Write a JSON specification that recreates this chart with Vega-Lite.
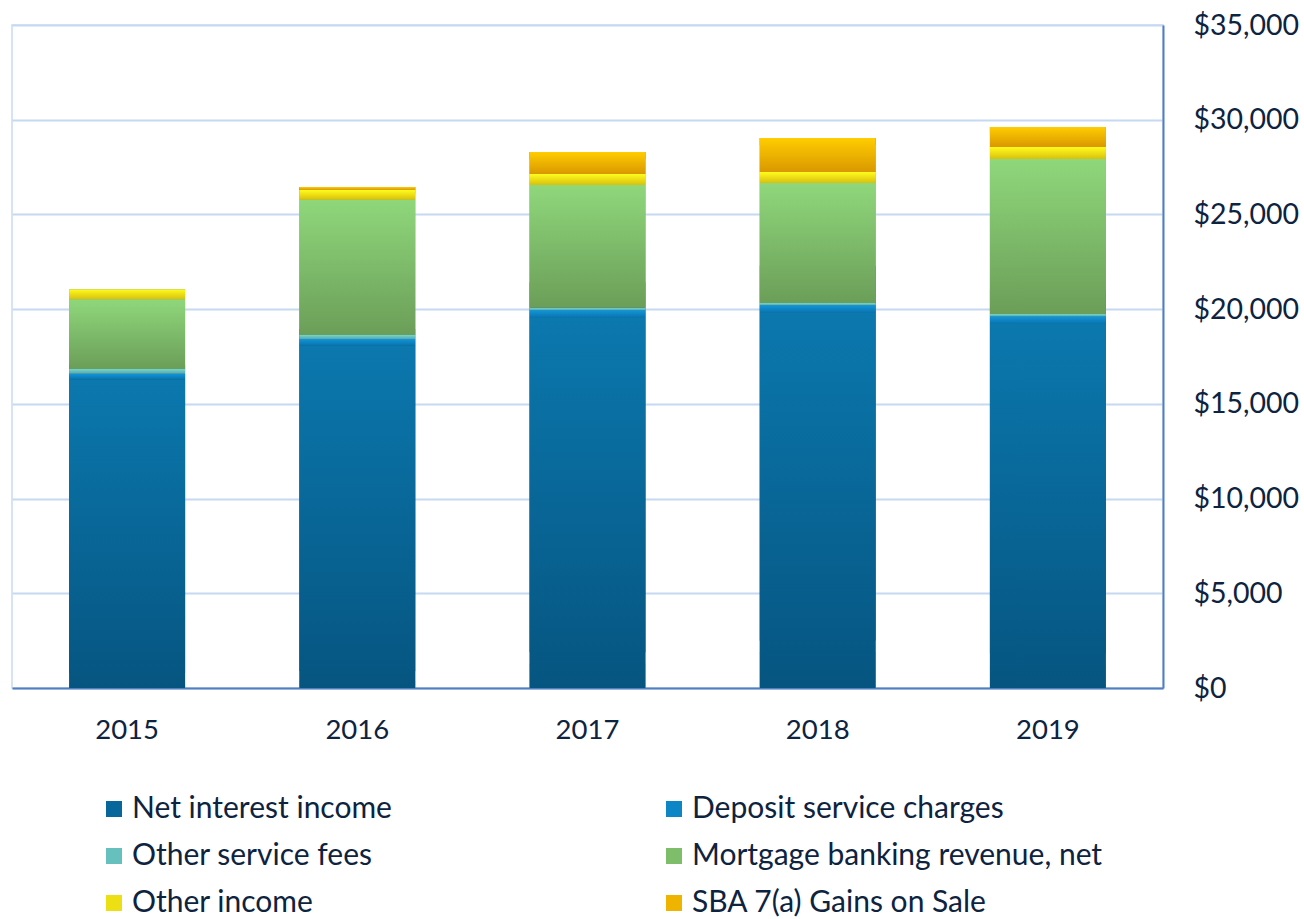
{
  "$schema": "https://vega.github.io/schema/vega-lite/v6.json",
  "autosize": {"type": "none"},
  "width": 1151,
  "height": 663,
  "padding": {"left": 12, "top": 25, "right": 141, "bottom": 231},
  "background": "white",
  "config": {
    "font": "Lato",
    "view": {"stroke": "#c9daf3", "strokeWidth": 1.5}
  },
  "data": {
    "values": [
      {"year": "2015", "category": "Net interest income", "value": 16292},
      {"year": "2015", "category": "Deposit service charges", "value": 300},
      {"year": "2015", "category": "Other service fees", "value": 248},
      {"year": "2015", "category": "Mortgage banking revenue, net", "value": 3680},
      {"year": "2015", "category": "Other income", "value": 528},
      {"year": "2015", "category": "SBA 7(a) Gains on Sale", "value": 0},
      {"year": "2016", "category": "Net interest income", "value": 18074},
      {"year": "2016", "category": "Deposit service charges", "value": 350},
      {"year": "2016", "category": "Other service fees", "value": 211},
      {"year": "2016", "category": "Mortgage banking revenue, net", "value": 7143},
      {"year": "2016", "category": "Other income", "value": 512},
      {"year": "2016", "category": "SBA 7(a) Gains on Sale", "value": 158},
      {"year": "2017", "category": "Net interest income", "value": 19538},
      {"year": "2017", "category": "Deposit service charges", "value": 400},
      {"year": "2017", "category": "Other service fees", "value": 138},
      {"year": "2017", "category": "Mortgage banking revenue, net", "value": 6477},
      {"year": "2017", "category": "Other income", "value": 581},
      {"year": "2017", "category": "SBA 7(a) Gains on Sale", "value": 1161},
      {"year": "2018", "category": "Net interest income", "value": 19802},
      {"year": "2018", "category": "Deposit service charges", "value": 400},
      {"year": "2018", "category": "Other service fees", "value": 122},
      {"year": "2018", "category": "Mortgage banking revenue, net", "value": 6335},
      {"year": "2018", "category": "Other income", "value": 581},
      {"year": "2018", "category": "SBA 7(a) Gains on Sale", "value": 1795},
      {"year": "2019", "category": "Net interest income", "value": 19213},
      {"year": "2019", "category": "Deposit service charges", "value": 400},
      {"year": "2019", "category": "Other service fees", "value": 130},
      {"year": "2019", "category": "Mortgage banking revenue, net", "value": 8183},
      {"year": "2019", "category": "Other income", "value": 633},
      {"year": "2019", "category": "SBA 7(a) Gains on Sale", "value": 1056}
    ]
  },
  "encoding": {
    "x": {
      "field": "year",
      "type": "nominal",
      "scale": {"paddingInner": 0.496, "paddingOuter": 0.248},
      "axis": {
        "title": null,
        "labelAngle": 0,
        "labelFontSize": 27.5,
        "labelColor": "#0d2340",
        "labelPadding": 28,
        "ticks": false,
        "domainColor": "#4f7fbf",
        "domainWidth": 2
      }
    },
    "y": {
      "field": "value",
      "type": "quantitative",
      "stack": "zero",
      "scale": {"domain": [0, 35000], "nice": false},
      "axis": {
        "orient": "right",
        "title": null,
        "values": [0, 5000, 10000, 15000, 20000, 25000, 30000, 35000],
        "format": "$,.0f",
        "labelFontSize": 28.5,
        "labelColor": "#0d2340",
        "labelPadding": 30,
        "ticks": false,
        "domainColor": "#4f7fbf",
        "domainWidth": 2,
        "gridColor": "#c6d9f1",
        "gridWidth": 2
      }
    },
    "color": {
      "field": "category",
      "type": "nominal",
      "sort": ["Net interest income", "Deposit service charges", "Other service fees", "Mortgage banking revenue, net", "Other income", "SBA 7(a) Gains on Sale"],
      "scale": {
        "domain": ["Net interest income", "Deposit service charges", "Other service fees", "Mortgage banking revenue, net", "Other income", "SBA 7(a) Gains on Sale"],
        "range": ["#08679a", "#0d86c6", "#66c0bd", "#7ebd6a", "#ecdf14", "#eeb400"]
      },
      "legend": {
        "title": null,
        "orient": "none",
        "direction": "horizontal",
        "legendX": 87,
        "legendY": 769,
        "padding": 0,
        "columns": 2,
        "columnPadding": 267,
        "rowPadding": 17,
        "symbolType": "square",
        "symbolSize": 256,
        "symbolStrokeWidth": 0,
        "labelFontSize": 30,
        "labelColor": "#0d2340",
        "labelOffset": 3,
        "labelLimit": 600
      }
    }
  },
  "layer": [
    {"mark": {"type": "bar", "strokeWidth": 0}},
    {
      "mark": {"type": "bar", "strokeWidth": 0},
      "encoding": {
        "fill": {
          "condition": [
            {"test": "datum.category === 'Net interest income'", "value": {"gradient": "linear", "x1": 0, "y1": 0, "x2": 0, "y2": 1, "stops": [{"offset": 0, "color": "#0b78ae"}, {"offset": 1, "color": "#065580"}]}},
            {"test": "datum.category === 'Deposit service charges'", "value": {"gradient": "linear", "x1": 0, "y1": 0, "x2": 0, "y2": 1, "stops": [{"offset": 0, "color": "#1096dc"}, {"offset": 1, "color": "#0a72aa"}]}},
            {"test": "datum.category === 'Other service fees'", "value": {"gradient": "linear", "x1": 0, "y1": 0, "x2": 0, "y2": 1, "stops": [{"offset": 0, "color": "#72d6d2"}, {"offset": 1, "color": "#5aa8a6"}]}},
            {"test": "datum.category === 'Mortgage banking revenue, net'", "value": {"gradient": "linear", "x1": 0, "y1": 0, "x2": 0, "y2": 1, "stops": [{"offset": 0, "color": "#8fd77b"}, {"offset": 1, "color": "#6b9e58"}]}},
            {"test": "datum.category === 'Other income'", "value": {"gradient": "linear", "x1": 0, "y1": 0, "x2": 0, "y2": 1, "stops": [{"offset": 0, "color": "#fffc1c"}, {"offset": 1, "color": "#d8c00e"}]}}
          ],
          "value": {"gradient": "linear", "x1": 0, "y1": 0, "x2": 0, "y2": 1, "stops": [{"offset": 0, "color": "#ffcd00"}, {"offset": 1, "color": "#d99800"}]}
        }
      }
    }
  ]
}
